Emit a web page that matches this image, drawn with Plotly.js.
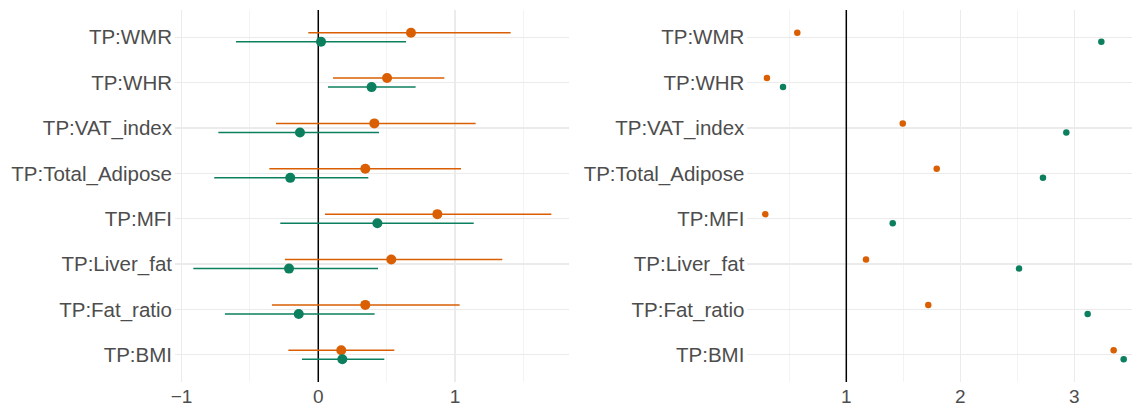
<!DOCTYPE html>
<html>
<head>
<meta charset="utf-8">
<script src="https://cdn.plot.ly/plotly-3.0.1.min.js"></script>
<style>html,body{margin:0;padding:0;background:#fff;}#chart{width:1132px;height:410px;}</style>
</head>
<body>
<div id="chart"></div>
<script>
// Categories, bottom to top
const categories = ['TP:BMI','TP:Fat_ratio','TP:Liver_fat','TP:MFI','TP:Total_Adipose','TP:VAT_index','TP:WHR','TP:WMR'];

// Left panel: estimates with intervals
const orangeEst = [0.168, 0.344, 0.534, 0.871, 0.344, 0.410, 0.503, 0.678];
const orangeLo  = [-0.219, -0.339, -0.244, 0.049, -0.358, -0.309, 0.108, -0.073];
const orangeHi  = [0.556, 1.034, 1.346, 1.705, 1.044, 1.151, 0.922, 1.407];
const greenEst  = [0.176, -0.143, -0.214, 0.432, -0.205, -0.134, 0.390, 0.020];
const greenLo   = [-0.119, -0.683, -0.914, -0.278, -0.761, -0.731, 0.071, -0.602];
const greenHi   = [0.483, 0.412, 0.437, 1.137, 0.366, 0.444, 0.712, 0.642];

// Right panel: point values
const orangeRight = [3.345, 1.719, 1.173, 0.289, 1.793, 1.495, 0.304, 0.570];
const greenRight  = [3.433, 3.117, 2.515, 1.407, 2.725, 2.930, 0.445, 3.237];

// Reference lines
const refLeft = 0;
const refRight = 1;

// Axis ticks
const leftTickVals = [-1, 0, 1];
const leftTickText = ['\u22121', '0', '1'];
const rightTickVals = [1, 2, 3];
const rightTickText = ['1', '2', '3'];

const ORANGE = '#D95F02';
const GREEN = '#0B7F5E';
const DODGE = 0.1;
const Y_RANGE = [0.4, 8.6];

const catPos = categories.map((c, i) => i + 1);
const yOrange = catPos.map(p => p + DODGE);
const yGreen = catPos.map(p => p - DODGE);

function refTrace(v, xa, ya) {
  return {
    type: 'scatter', mode: 'lines', x: [v, v], y: Y_RANGE, xaxis: xa, yaxis: ya,
    line: {color: '#000000', width: 1.5}, hoverinfo: 'skip', showlegend: false, cliponaxis: false
  };
}
function errTrace(est, lo, hi, y, color) {
  return {
    type: 'scatter', mode: 'markers', x: est, y: y, xaxis: 'x', yaxis: 'y',
    marker: {color: color, size: 10},
    error_x: {type: 'data', symmetric: false,
      array: hi.map((h, i) => h - est[i]),
      arrayminus: lo.map((l, i) => est[i] - l),
      color: color, thickness: 1.5, width: 0},
    hoverinfo: 'x', showlegend: false
  };
}
function ptTrace(vals, y, color) {
  return {
    type: 'scatter', mode: 'markers', x: vals, y: y, xaxis: 'x2', yaxis: 'y2',
    marker: {color: color, size: 6.5}, hoverinfo: 'x', showlegend: false
  };
}

const data = [
  refTrace(refLeft, 'x', 'y'),
  refTrace(refRight, 'x2', 'y2'),
  errTrace(orangeEst, orangeLo, orangeHi, yOrange, ORANGE),
  errTrace(greenEst, greenLo, greenHi, yGreen, GREEN),
  ptTrace(orangeRight, yOrange, ORANGE),
  ptTrace(greenRight, yGreen, GREEN)
];

const GRID = '#EBEBEB';
const MINOR = '#F3F3F3';
const TXT = '#4D4D4D';
const fontFam = '"Liberation Sans", Arial, sans-serif';

const yCommon = {
  range: Y_RANGE, tickvals: catPos, ticktext: categories,
  showgrid: true, gridcolor: GRID, gridwidth: 1.2, zeroline: false, showline: false,
  ticks: '', tickfont: {size: 20.5, color: TXT, family: fontFam}, ticklabelstandoff: 2,
  fixedrange: true
};

const layout = {
  width: 1132, height: 410,
  margin: {l: 0, r: 0, t: 10, b: 28},
  paper_bgcolor: '#fff', plot_bgcolor: '#fff',
  font: {family: fontFam, color: TXT},
  xaxis: {
    domain: [0.1546, 0.5029], anchor: 'y', range: [-1.048, 1.836],
    tickvals: leftTickVals, ticktext: leftTickText,
    showgrid: true, gridcolor: GRID, gridwidth: 1.2, zeroline: false, showline: false, ticks: '',
    minor: {tickvals: [-0.5, 0.5, 1.5], showgrid: true, gridcolor: MINOR, gridwidth: 1},
    tickfont: {size: 19, color: TXT, family: fontFam}, ticklabelstandoff: 1
  },
  yaxis: Object.assign({anchor: 'x', domain: [0, 1]}, yCommon),
  xaxis2: {
    domain: [0.6602, 1], anchor: 'y2', range: [0.132, 3.506],
    tickvals: rightTickVals, ticktext: rightTickText,
    showgrid: true, gridcolor: GRID, gridwidth: 1.2, zeroline: false, showline: false, ticks: '',
    minor: {tickvals: [0.5, 1.5, 2.5, 3.5], showgrid: true, gridcolor: MINOR, gridwidth: 1},
    tickfont: {size: 19, color: TXT, family: fontFam}, ticklabelstandoff: 1
  },
  yaxis2: Object.assign({anchor: 'x2', domain: [0, 1]}, yCommon)
};

Plotly.newPlot('chart', data, layout, {displayModeBar: false, staticPlot: true});
</script>
</body>
</html>
